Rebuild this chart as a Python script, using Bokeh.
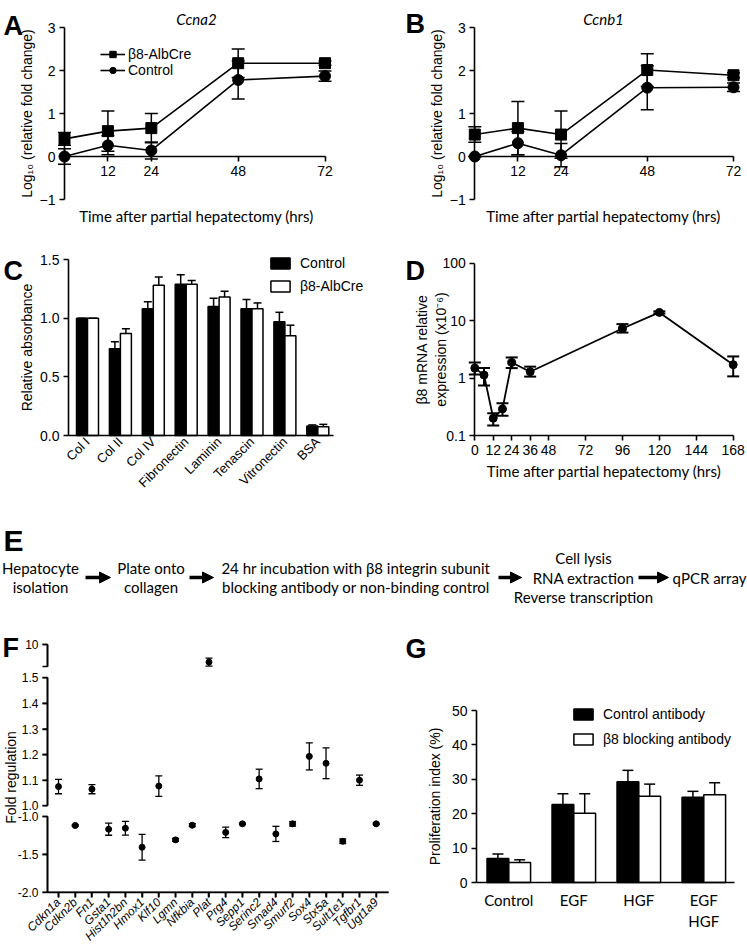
import math
from bokeh.plotting import figure
from bokeh.models import (Range1d, LinearAxis, LogAxis, LogScale, FixedTicker, Whisker, TeeHead,
                          ColumnDataSource, Label, Legend, LegendItem, Arrow, NormalHead,
                          PrintfTickFormatter)
from bokeh.layouts import column, row
from bokeh.embed import file_html
from bokeh.resources import INLINE
from bokeh.core.properties import value

# ---------------- data ----------------
hours_ab = [0, 12, 24, 48, 72]
ab_xticks = [12, 24, 48, 72]
ab_yticks = [-1, 0, 1, 2, 3]
ccna2_cre = [0.41, 0.59, 0.66, 2.17, 2.17]
ccna2_cre_err = [0.15, 0.47, 0.34, 0.33, 0.05]
ccna2_ctrl = [0.0, 0.26, 0.14, 1.78, 1.87]
ccna2_ctrl_err = [0.18, 0.22, 0.20, 0.44, 0.12]
ccnb1_cre = [0.51, 0.66, 0.51, 2.01, 1.89]
ccnb1_cre_err = [0.18, 0.62, 0.55, 0.38, 0.06]
ccnb1_ctrl = [0.0, 0.31, 0.03, 1.60, 1.61]
ccnb1_ctrl_err = [0.0, 0.27, 0.27, 0.51, 0.10]

matrix = ["Col I", "Col II", "Col IV", "Fibronectin", "Laminin", "Tenascin", "Vitronectin", "BSA"]
abs_ctrl = [1.0, 0.74, 1.08, 1.29, 1.10, 1.08, 0.97, 0.08]
abs_ctrl_err = [0.0, 0.06, 0.06, 0.08, 0.07, 0.08, 0.08, 0.01]
abs_cre = [1.0, 0.87, 1.28, 1.29, 1.18, 1.08, 0.85, 0.075]
abs_cre_err = [0.0, 0.04, 0.07, 0.03, 0.05, 0.05, 0.09, 0.02]
c_yticks = [0, 0.5, 1.0, 1.5]

hours_d = [0, 6, 12, 18, 24, 36, 96, 120, 168]
b8_expr = [1.49, 1.13, 0.20, 0.29, 1.87, 1.29, 7.3, 13.9, 1.71]
b8_low = [1.15, 0.74, 0.15, 0.22, 1.49, 1.06, 6.2, 13.3, 1.07]
b8_high = [1.87, 1.50, 0.245, 0.363, 2.29, 1.58, 8.7, 14.5, 2.38]
d_xticks = [0, 12, 24, 36, 48, 72, 96, 120, 144, 168]
d_yticks = [0.1, 1, 10, 100]

steps = [["Hepatocyte", "isolation"],
         ["Plate onto", "collagen"],
         ["24 hr incubation with β8 integrin subunit", "blocking antibody or non-binding control"],
         ["Cell lysis", "RNA extraction", "Reverse transcription"],
         ["qPCR array"]]

genes = ["Cdkn1a", "Cdkn2b", "Fn1", "Gsta1", "Hist1h2bn", "Hmox1", "Klf10", "Lgmn", "Nfkbia", "Plat",
         "Prg4", "Sepp1", "Serinc2", "Smad4", "Smurf2", "Sox4", "Stx5a", "Sult1e1", "Tgfbr1", "Ugt1a9"]
fold = [1.075, -1.119, 1.065, -1.168, -1.155, -1.406, 1.077, -1.309, -1.115, 6.0,
        -1.21, -1.097, 1.105, -1.23, -1.097, 1.193, 1.166, -1.327, 1.10, -1.097]
fold_err = [0.028, 0.01, 0.018, 0.08, 0.09, 0.17, 0.04, 0.02, 0.02, 0.9,
            0.07, 0.01, 0.038, 0.10, 0.03, 0.053, 0.06, 0.03, 0.02, 0.01]
f_top_ticks = [10]
f_top_end = 5
f_mid_ticks = [1.0, 1.1, 1.2, 1.3, 1.4, 1.5]
f_bot_ticks = [-2.0, -1.5, -1.0]

treatments = ["Control", "EGF", "HGF", "EGF\nHGF"]
prolif_ctrl = [7.0, 22.7, 29.3, 24.8]
prolif_ctrl_err = [1.3, 3.1, 3.3, 1.7]
prolif_b8 = [5.8, 20.1, 25.1, 25.5]
prolif_b8_err = [0.8, 5.7, 3.5, 3.5]
g_yticks = [0, 10, 20, 30, 40, 50]

# ---------------- helpers ----------------
AX = "Liberation Sans"
CAL = "Lato"
LW = 1.6


class Panel:
    """A figure whose frame fills its canvas; (data, page-pixel) pairs fix the scales."""

    def __init__(self, ox, oy, w, h, xmap, ymap, ylog=False):
        self.oy, self.h = oy, h
        (dx0, px0), (dx1, px1) = xmap
        self.dx0, self.px0 = dx0, px0
        self.sx = (px1 - px0) / (dx1 - dx0)
        (dy0, py0), (dy1, py1) = ymap
        if ylog:
            dy0, dy1 = math.log10(dy0), math.log10(dy1)
        self.dy0, self.py0 = dy0, py0
        self.sy = (py1 - py0) / (dy1 - dy0)
        self.ylog = ylog
        self.extra_sy = {}
        xs = dx0 + (ox - px0) / self.sx
        xe = dx0 + (ox + w - px0) / self.sx
        ys = dy0 + (oy + h - py0) / self.sy
        ye = dy0 + (oy - py0) / self.sy
        if ylog:
            ys, ye = 10 ** ys, 10 ** ye
        p = figure(width=w, height=h, x_range=Range1d(xs, xe), y_range=Range1d(ys, ye),
                   x_axis_type=None, y_axis_type=None, output_backend="svg",
                   toolbar_location=None, min_border=0, min_border_left=0, min_border_right=0,
                   min_border_top=0, min_border_bottom=0)
        if ylog:
            p.y_scale = LogScale()
        p.outline_line_color = None
        p.background_fill_color = "white"
        p.border_fill_color = "white"
        self.p = p

    def add_yrange(self, name, ymap):
        (d0, p0), (d1, p1) = ymap
        s = (p1 - p0) / (d1 - d0)
        self.extra_sy[name] = s
        start = d0 + (self.oy + self.h - p0) / s
        end = d0 + (self.oy - p0) / s
        self.p.extra_y_ranges[name] = Range1d(start, end)

    def data(self, px, py):
        x = self.dx0 + (px - self.px0) / self.sx
        y = self.dy0 + (py - self.py0) / self.sy
        if self.ylog:
            y = 10 ** y
        return x, y

    def text(self, txt, px, py, size="15px", font=CAL, style="normal", align="center",
             baseline="middle"):
        x, y = self.data(px, py)
        self.p.add_layout(Label(x=x, y=y, text=txt, text_font=font, text_font_style=style,
                                text_font_size=size, text_align=align, text_baseline=baseline,
                                text_color="black"))

    def letter(self, txt, px, py, size="27px"):
        self.text(txt, px, py, size=size, font=AX, style="bold", align="left",
                  baseline="alphabetic")


def style(ax, size="14px", font=AX, tick_out=5, standoff=4):
    ax.axis_line_color = "black"
    ax.axis_line_width = LW
    ax.major_tick_line_color = "black"
    ax.major_tick_line_width = LW
    ax.major_tick_out = tick_out
    ax.major_tick_in = 0
    ax.minor_tick_line_color = None
    ax.major_label_text_font = font
    ax.major_label_text_font_size = size
    ax.major_label_text_color = "black"
    ax.major_label_standoff = standoff
    ax.axis_label_text_font = AX
    ax.axis_label_text_font_size = "14px"
    ax.axis_label_text_font_style = "normal"
    ax.axis_label_text_color = "black"
    return ax


def whisker(p, xs, ys, errs, size, lw=1.5, both=True, yname="default"):
    src = ColumnDataSource(dict(x=xs, lower=[y - e for y, e in zip(ys, errs)] if both else ys,
                                upper=[y + e for y, e in zip(ys, errs)]))
    w = Whisker(source=src, base="x", lower="lower", upper="upper", dimension="height",
                line_color="black", line_width=lw, y_range_name=yname,
                upper_head=TeeHead(size=size, line_width=lw, line_color="black"),
                lower_head=TeeHead(size=size, line_width=lw, line_color="black") if both else None)
    p.add_layout(w)


def rule(p, base, lower, upper, dim, yname="default"):
    """Head-less whiskers, used as axis spines and tick marks."""
    src = ColumnDataSource(dict(base=base, lower=lower, upper=upper))
    p.add_layout(Whisker(source=src, base="base", lower="lower", upper="upper", dimension=dim,
                         line_color="black", line_width=LW, y_range_name=yname,
                         upper_head=None, lower_head=None))


def legend_style(lg, size="14px"):
    lg.label_text_font = AX
    lg.label_text_font_size = size
    lg.label_text_color = "black"
    lg.background_fill_alpha = 0
    lg.border_line_color = None
    lg.padding = 0
    lg.margin = 0
    return lg


# ---------------- A / B ----------------
def time_panel(ox, w, x0px, x72px, title, title_px, cre, cre_err, ctrl, ctrl_err,
               letter, letter_pos, legend):
    P = Panel(ox, 0, w, 232, ((0, x0px), (72, x72px)), ((-1, 199), (3, 27)))
    p = P.p
    yax = style(LinearAxis(fixed_location=0, ticker=FixedTicker(ticks=ab_yticks), bounds=(-1, 3),
                           axis_label="Log₁₀ (relative fold change)", axis_label_standoff=2))
    p.add_layout(yax, "left")
    xax = style(LinearAxis(fixed_location=0, ticker=FixedTicker(ticks=ab_xticks), bounds=(0, 72)))
    p.add_layout(xax, "below")

    l1 = p.line(hours_ab, cre, line_color="black", line_width=LW)
    l2 = p.line(hours_ab, ctrl, line_color="black", line_width=LW)
    whisker(p, hours_ab, cre, cre_err, 13)
    whisker(p, hours_ab, ctrl, ctrl_err, 13)
    m1 = p.scatter(hours_ab, cre, marker="square", size=11, color="black")
    m2 = p.scatter(hours_ab, ctrl, marker="circle", size=11, color="black")

    P.text(title, title_px, 18, style="italic")
    P.text("Time after partial hepatectomy (hrs)", title_px, 215)
    P.letter(letter, *letter_pos)
    if legend:
        lg = Legend(items=[LegendItem(label="β8-AlbCre", renderers=[l1, m1]),
                           LegendItem(label="Control", renderers=[l2, m2])],
                    location=(100, 154), glyph_width=25, glyph_height=16, spacing=0,
                    label_standoff=3)
        legend_style(lg)
        p.add_layout(lg)
    return p


pA = time_panel(0, 370, 64, 324.5, "Ccna2", 196, ccna2_cre, ccna2_cre_err,
                ccna2_ctrl, ccna2_ctrl_err, "A", (3, 25), True)
pB = time_panel(370, 377, 474.3, 733, "Ccnb1", 603, ccnb1_cre, ccnb1_cre_err,
                ccnb1_ctrl, ccnb1_ctrl_err, "B", (405, 23), False)

# ---------------- C ----------------
PC = Panel(0, 232, 370, 268, ((0, 87), (7, 317.3)), ((0, 435), (1.5, 259)))
pC = PC.p
c_left, _ = PC.data(68, 435)
c_right, _ = PC.data(333, 435)
idx_c = list(range(len(matrix)))
bw = 0.334
xb_c = [i - bw / 2 for i in idx_c]
xw_c = [i + bw / 2 for i in idx_c]
whisker(pC, xb_c, abs_ctrl, abs_ctrl_err, 8, both=False)
whisker(pC, xw_c, abs_cre, abs_cre_err, 8, both=False)
rc1 = pC.vbar(x=xb_c, top=abs_ctrl, width=bw, bottom=0, fill_color="black", line_color="black", line_width=1.5)
rc2 = pC.vbar(x=xw_c, top=abs_cre, width=bw, bottom=0, fill_color="white", line_color="black", line_width=1.5)
cy = style(LinearAxis(fixed_location=c_left, bounds=(0, 1.5), ticker=FixedTicker(ticks=c_yticks),
                      formatter=PrintfTickFormatter(format="%.1f"),
                      axis_label="Relative absorbance", axis_label_standoff=2))
pC.add_layout(cy, "left")
cx = style(LinearAxis(fixed_location=0, bounds=(c_left, c_right), ticker=FixedTicker(ticks=idx_c)),
           size="13px", tick_out=0, standoff=4)
cx.major_label_overrides = {i: m for i, m in zip(idx_c, matrix)}
cx.major_label_orientation = math.pi / 4
pC.add_layout(cx, "below")
lgc = Legend(items=[LegendItem(label="Control", renderers=[rc1]),
                    LegendItem(label="β8-AlbCre", renderers=[rc2])],
             location=(268, 206), glyph_width=24, glyph_height=14, spacing=7, label_standoff=8)
legend_style(lgc)
pC.add_layout(lgc)
PC.letter("C", 3, 270)

# ---------------- D ----------------
PD = Panel(370, 232, 377, 268, ((0, 474.3), (168, 732.7)), ((0.1, 435), (100, 262.7)), ylog=True)
pD = PD.p
dy = style(LogAxis(fixed_location=0, bounds=(0.1, 100), ticker=FixedTicker(ticks=d_yticks),
                   formatter=PrintfTickFormatter(format="%g"),
                   axis_label="β8 mRNA relative\nexpression (x10⁻⁶)", axis_label_standoff=-10))
pD.add_layout(dy, "left")
dx = style(LinearAxis(fixed_location=0.1, ticker=FixedTicker(ticks=d_xticks), bounds=(0, 168),
                      axis_label="Time after partial hepatectomy (hrs)", axis_label_standoff=4))
dx.axis_label_text_font = CAL
dx.axis_label_text_font_size = "15px"
pD.add_layout(dx, "below")
pD.line(hours_d, b8_expr, line_color="black", line_width=1.8)
srcd = ColumnDataSource(dict(x=hours_d, lower=b8_low, upper=b8_high))
pD.add_layout(Whisker(source=srcd, base="x", lower="lower", upper="upper", line_color="black",
                      line_width=2, upper_head=TeeHead(size=12, line_width=2),
                      lower_head=TeeHead(size=12, line_width=2)))
pD.scatter(hours_d, b8_expr, marker="circle", size=8, color="black")
PD.letter("D", 405, 270)

# ---------------- E ----------------
PE = Panel(0, 500, 747, 115, ((0, 0), (747, 747)), ((500, 500), (615, 615)))
pE = PE.p
step_cx = [40, 150.5, 355.5, 583, 709]
line_gap = 19.5
ex, ey, et = [], [], []
for cxv, lines in zip(step_cx, steps):
    n = len(lines)
    for j, t in enumerate(lines):
        ex.append(cxv)
        ey.append(577 + (j - (n - 1) / 2) * line_gap)
        et.append(t)
pE.text(x=ex, y=ey, text=et, text_font=value(CAL), text_font_size="15px",
        text_align="center", text_baseline="middle", text_color="black")
for xa, xb in [(85, 110), (189, 213), (498, 521), (638, 668)]:
    pE.add_layout(Arrow(x_start=xa, y_start=577, x_end=xb, y_end=577, line_width=3.5,
                        line_color="black",
                        end=NormalHead(size=11, fill_color="black", line_color="black", line_width=1)))
PE.letter("E", 3, 540, size="30px")

# ---------------- F (one figure, three y scales for the broken axis) ----------------
PF = Panel(0, 615, 400, 329, ((0, 58), (19, 375.7)), ((1.0, 805.3), (1.5, 677.3)))
PF.add_yrange("top", ((5, 666), (10, 644)))
PF.add_yrange("bot", ((-2.0, 891.7), (-1.0, 816)))
pF = PF.p
f_left, _ = PF.data(47, 800)
f_right, _ = PF.data(388, 800)
idx_f = list(range(len(genes)))
sections = [("top", lambda v: v > 1.5), ("default", lambda v: 1.0 <= v <= 1.5), ("bot", lambda v: v < 0)]
for yname, cond in sections:
    sel = [i for i in idx_f if cond(fold[i])]
    ys = [fold[i] for i in sel]
    es = [fold_err[i] for i in sel]
    whisker(pF, sel, ys, es, 7, lw=1.3, yname=yname)
    pF.scatter(sel, ys, marker="circle", size=6, color="black", y_range_name=yname)

# spines and tick marks of the broken axis, from the tick lists
tick_dx = 5 / PF.sx
for yname, ticks in [("top", f_top_ticks + [f_top_end]), ("default", f_mid_ticks), ("bot", f_bot_ticks)]:
    rule(pF, [f_left], [min(ticks)], [max(ticks)], "height", yname)
    rule(pF, ticks, [f_left - tick_dx] * len(ticks), [f_left] * len(ticks), "width", yname)
tick_dy = 5 / abs(PF.extra_sy["bot"])
bot_base = min(f_bot_ticks)
rule(pF, [bot_base], [f_left], [f_right], "width", "bot")
rule(pF, idx_f, [bot_base - tick_dy] * len(idx_f), [bot_base] * len(idx_f), "height", "bot")

f1y = style(LinearAxis(y_range_name="top", fixed_location=f_left, bounds=(5, 10),
                       ticker=FixedTicker(ticks=f_top_ticks)), size="12px")
pF.add_layout(f1y, "left")
f2y = style(LinearAxis(fixed_location=f_left, bounds=(1.0, 1.5), ticker=FixedTicker(ticks=f_mid_ticks),
                       formatter=PrintfTickFormatter(format="%.1f")), size="12px")
pF.add_layout(f2y, "left")
f3y = style(LinearAxis(y_range_name="bot", fixed_location=f_left, bounds=(-2.0, -1.0),
                       ticker=FixedTicker(ticks=f_bot_ticks),
                       formatter=PrintfTickFormatter(format="%.1f")), size="12px")
pF.add_layout(f3y, "left")
f3x = style(LinearAxis(y_range_name="bot", fixed_location=-2.0, bounds=(f_left, f_right),
                       ticker=FixedTicker(ticks=idx_f)), size="12px", tick_out=5, standoff=3)
f3x.major_label_overrides = {i: g for i, g in zip(idx_f, genes)}
f3x.major_label_orientation = math.pi / 4
f3x.major_label_text_font_style = "italic"
pF.add_layout(f3x, "below")
# the shared y-axis title, as the label of a line-less axis centred on it
lab_x, _ = PF.data(18, 777)
_, lab_lo = PF.data(18, 837)
_, lab_hi = PF.data(18, 717)
flab = LinearAxis(fixed_location=lab_x, bounds=(lab_lo, lab_hi), ticker=FixedTicker(ticks=[]),
                  axis_line_color=None, major_tick_out=0, minor_tick_out=0, major_label_standoff=0,
                  axis_label="Fold regulation", axis_label_standoff=0)
flab.axis_label_text_font = AX
flab.axis_label_text_font_size = "14px"
flab.axis_label_text_font_style = "normal"
flab.axis_label_text_color = "black"
pF.add_layout(flab, "left")
PF.letter("F", 2, 647)

# ---------------- G ----------------
PG = Panel(400, 615, 347, 329, ((0, 508.3), (1, 573.3)), ((0, 882), (50, 710)))
pG = PG.p
g_left, _ = PG.data(476, 882)
g_right, _ = PG.data(734.3, 882)
idx_g = list(range(len(treatments)))
gw = 0.335
xb_g = [i - gw / 2 for i in idx_g]
xw_g = [i + gw / 2 for i in idx_g]
whisker(pG, xb_g, prolif_ctrl, prolif_ctrl_err, 11, both=False)
whisker(pG, xw_g, prolif_b8, prolif_b8_err, 11, both=False)
rg1 = pG.vbar(x=xb_g, top=prolif_ctrl, width=gw, bottom=0, fill_color="black", line_color="black", line_width=1.5)
rg2 = pG.vbar(x=xw_g, top=prolif_b8, width=gw, bottom=0, fill_color="white", line_color="black", line_width=1.5)
gy = style(LinearAxis(fixed_location=g_left, bounds=(0, 50), ticker=FixedTicker(ticks=g_yticks),
                      axis_label="Proliferation index (%)", axis_label_standoff=6))
pG.add_layout(gy, "left")
gx = style(LinearAxis(fixed_location=0, bounds=(g_left, g_right), ticker=FixedTicker(ticks=idx_g)),
           size="15px", font=CAL, tick_out=0, standoff=8)
gx.major_label_overrides = {i: t for i, t in zip(idx_g, treatments)}
pG.add_layout(gx, "below")
lgg = Legend(items=[LegendItem(label="Control antibody", renderers=[rg1]),
                    LegendItem(label="β8 blocking antibody", renderers=[rg2])],
             location=(171, 197), glyph_width=24, glyph_height=14, spacing=9, label_standoff=8)
legend_style(lgg)
pG.add_layout(lgg)
PG.letter("G", 405, 648)

layout = column(row(pA, pB), row(pC, pD), pE, row(pF, pG))
open("out.html", "w").write(file_html(layout, INLINE))
